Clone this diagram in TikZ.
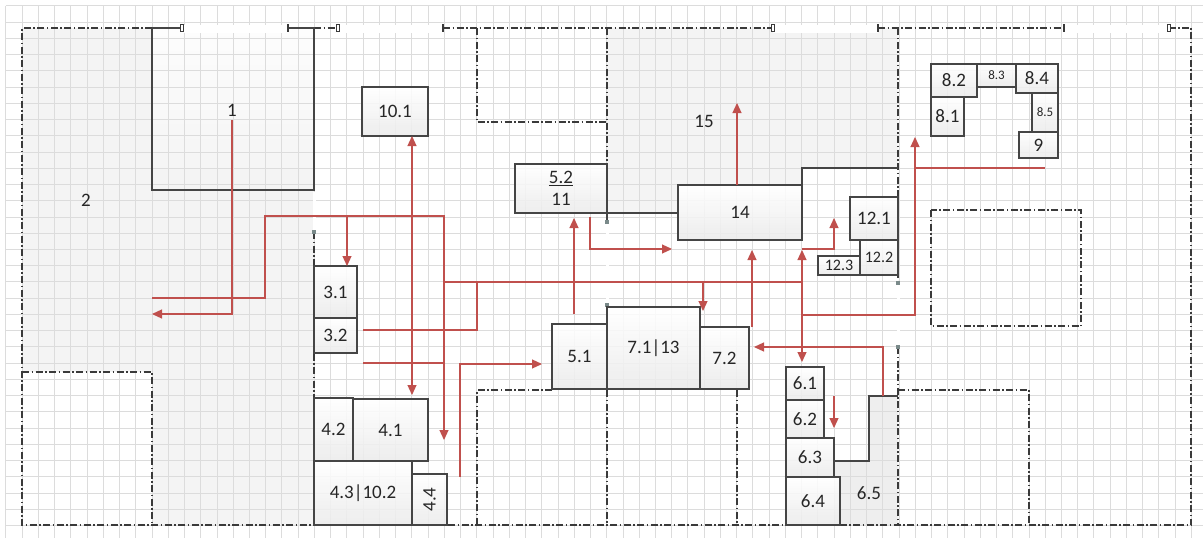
\documentclass[tikz,border=0pt]{standalone}
\usepackage{fontspec}
\setmainfont{Carlito}
\usetikzlibrary{arrows.meta}
\definecolor{redc}{HTML}{C0504D}
\definecolor{gridc}{HTML}{DCDCDC}
\definecolor{areac}{HTML}{F4F4F4}
\definecolor{areasix}{HTML}{EEEEEE}
\definecolor{wallc}{HTML}{3A3A3A}
\definecolor{boxc}{HTML}{454545}
\definecolor{boxbot}{HTML}{EBEBEB}
\definecolor{markc}{HTML}{7A8A8A}
\definecolor{textc}{HTML}{262626}
\newcommand{\bx}[7][]{%
  \node[roombox,minimum width={(#4-#2)*1pt},minimum height={(#5-#3)*1pt},#1] (#6) at (#2,#3) {#7};}
\newcommand{\mk}[2]{\fill[markc] ({#1-1.6},{#2-1.6}) rectangle ({#1+1.6},{#2+1.6});}
\newcommand{\wallrect}[2]{\draw[draw=wallc,line width=0.8pt,fill=white] ({#1-1.4},{#2-3.2}) rectangle ({#1+1.4},{#2+3.2});}
\newcommand{\wallbar}[3]{\draw[draw=wallc,line width=#3] (#1,{#2-3.8}) -- (#1,{#2+3.8});}
\begin{document}
\begin{tikzpicture}[x=1pt,y=-1pt,
  wall/.style={draw=wallc,line width=1.1pt,dash pattern=on 7pt off 2.5pt on 1.5pt off 2.5pt},
  solidw/.style={draw=boxc,line width=1.1pt},
  roombox/.style={draw=boxc,line width=1.1pt,top color=white,bottom color=boxbot,fill opacity=0.88,text opacity=1,inner sep=0pt,outer sep=0pt,anchor=north west,text=textc,font=\fontsize{19}{23}\selectfont},
  lbl/.style={text=textc,font=\fontsize{19}{23}\selectfont,inner sep=0pt},
  flow/.style={draw=redc,line width=1.2pt,-{Triangle[length=10pt,width=9pt]}},
  flowline/.style={draw=redc,line width=1.2pt},
  gridline/.style={draw=gridc,line width=0.8pt},
]
\useasboundingbox (0,0) rectangle (1203,538);
\fill[white] (0,0) rectangle (1203,538);
% grey areas
\fill[areac] (22,28) rectangle (152,372);
\fill[areac] (152,28) rectangle (314,525);
\fill[areac] (607,28) -- (898,28) -- (898,168) -- (802,168) -- (802,185) -- (678,185) -- (678,213) -- (607,213) -- cycle;
\fill[areasix] (869,396) -- (898,396) -- (898,525) -- (834,525) -- (834,461) -- (869,461) -- cycle;
\shade[top color=white,bottom color=areac,fill opacity=0.85] (152,28) rectangle (314,190);
% grid
\foreach \i in {0,...,73} {\draw[gridline] ({5.8+16.24*\i},5.8) -- ({5.8+16.24*\i},538);}
\foreach \j in {0,...,32} {\draw[gridline] (5.8,{5.8+16.24*\j}) -- (1203,{5.8+16.24*\j});}
% door openings
\fill[white] (182,25) rectangle (288,33);
\fill[white] (338,25) rectangle (443,33);
\fill[white] (773,25) rectangle (878,33);
\fill[white] (1064,25) rectangle (1169,33);
\fill[white] (312.5,192) rectangle (315.5,230);
\fill[white] (605.5,224) rectangle (608.5,303);
\fill[white] (896.5,285) rectangle (899.5,345);
% dash-dot walls
\draw[wall] (152,28) -- (22,28) -- (22,525) -- (1191,525) -- (1191,28) -- (1169,28);
\draw[wall] (314,28) -- (336,28);
\draw[wall] (443,28) -- (773,28);
\draw[wall] (878,28) -- (1064,28);
\draw[wall] (22,372) -- (152,372) -- (152,525);
\draw[wall] (314,232) -- (314,525);
\draw[wall] (477,28) -- (477,122) -- (607,122);
\draw[wall] (607,28) -- (607,164);
\draw[wall] (898,28) -- (898,283);
\draw[wall] (898,347) -- (898,525);
\draw[wall] (898,390) -- (1029,390) -- (1029,525);
\draw[wall] (931,210) rectangle (1081,326);
\draw[wall] (552,390) -- (477,390) -- (477,525);
\draw[wall] (607,390) -- (607,525);
\draw[wall] (737,390) -- (737,525);
% solid walls
\draw[solidw] (152,28) -- (152,190) -- (314,190) -- (314,28) -- (288,28);
\draw[solidw] (152,28) -- (182,28);
\draw[solidw] (607,213) -- (678,213);
\draw[solidw] (607,213) -- (607,222);
\draw[solidw] (802,185) -- (802,168) -- (898,168);
\draw[solidw] (834,461) -- (869,461) -- (869,396) -- (898,396);
% wall end markers
\wallrect{182}{28} \wallrect{338}{28} \wallrect{773}{28} \wallrect{1169}{28}
\wallbar{288}{28}{1.2pt} \wallbar{443}{28}{1.2pt} \wallbar{878}{28}{1.2pt} \wallbar{1064}{28}{2.4pt}
\mk{607}{222} \mk{607}{305} \mk{898}{283} \mk{898}{347} \mk{314}{232}
% rooms
\node[lbl] (n1) at (232,110) {1};
\node[lbl] (n2) at (86,200) {2};
\node[lbl] (n15) at (704,121) {15};
\node[lbl] (n65) at (869,493) {6.5};
\bx{362}{87}{428}{136}{n101}{10.1}
\bx[align=center]{515}{164}{607}{213}{n52}{\underline{5.2}\\[-1pt]11}
\bx{678}{185}{802}{240}{n14}{14}
\bx{314}{266}{357}{318}{n31}{3.1}
\bx{314}{318}{357}{353}{n32}{3.2}
\bx{314}{398}{353}{461}{n42}{4.2}
\bx{353}{399}{428}{461}{n41}{4.1}
\bx{314}{461}{412}{525}{n43}{4.3|10.2}
\bx{412}{474}{447}{525}{n44}{\rotatebox{90}{4.4}}
\bx{552}{324}{607}{389}{n51}{5.1}
\bx{607}{307}{700}{389}{n71}{7.1|13}
\bx{700}{327}{749}{389}{n72}{7.2}
\bx{786}{367}{824}{400}{n61}{6.1}
\bx{786}{400}{824}{438}{n62}{6.2}
\bx{786}{438}{834}{477}{n63}{6.3}
\bx{786}{477}{840}{525}{n64}{6.4}
\bx{850}{197}{898}{240}{n121}{12.1}
\bx[font=\fontsize{16}{19}\selectfont]{860}{240}{898}{275}{n122}{12.2}
\bx[font=\fontsize{16}{19}\selectfont]{818}{256}{860}{275}{n123}{12.3}
\bx{931}{64}{977}{97}{n82}{8.2}
\bx[font=\fontsize{13}{15}\selectfont]{977}{64}{1016}{87}{n83}{8.3}
\bx{1016}{64}{1058}{93}{n84}{8.4}
\bx{931}{97}{964}{136}{n81}{8.1}
\bx[font=\fontsize{13}{15}\selectfont]{1032}{93}{1058}{132}{n85}{8.5}
\bx{1019}{132}{1058}{158}{n9}{9}
% red flows
\draw[flow] (232,120) -- (232,314) -- (152,314);
\draw[flow] (152,298) -- (265,298) -- (265,216) -- (444,216) -- (444,440);
\draw[flow] (347,216) -- (347,266);
\draw[flowline] (363,330) -- (477,330) -- (477,282);
\draw[flowline] (444,282) -- (802,282);
\draw[flow] (703,282) -- (703,311);
\draw[flowline] (363,363) -- (444,363);
\draw[flow] (574,314) -- (574,218);
\draw[flow] (590,217) -- (590,249) -- (672,249);
\draw[flow] (737,185) -- (737,103);
\draw[draw=redc,line width=1.2pt,{Triangle[length=10pt,width=9pt]}-{Triangle[length=10pt,width=9pt]}] (412,136) -- (412,395);
\draw[flow] (460,477) -- (460,364) -- (542,364);
\draw[flow] (752,327) -- (752,250);
\draw[draw=redc,line width=1.2pt,{Triangle[length=10pt,width=9pt]}-{Triangle[length=10pt,width=9pt]}] (802,250) -- (802,362);
\draw[flow] (802,249) -- (834,249) -- (834,218);
\draw[flow] (802,315) -- (915,315) -- (915,137);
\draw[flowline] (1045,168) -- (915,168);
\draw[flow] (883,396) -- (883,347) -- (754,347);
\draw[flow] (834,396) -- (834,428);
\end{tikzpicture}
\end{document}
